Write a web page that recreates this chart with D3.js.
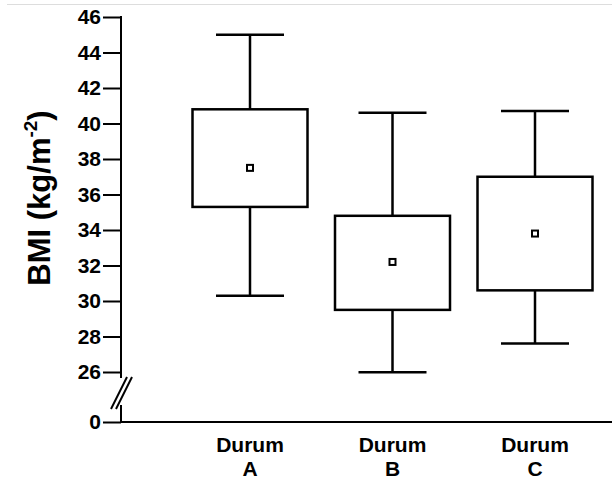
<!DOCTYPE html>
<html>
<head>
<meta charset="utf-8">
<script src="https://cdn.jsdelivr.net/npm/d3@7"></script>
<style>
  body { margin: 0; background: #fff; }
  text { font-family: "Liberation Sans", Arial, sans-serif; font-weight: bold; fill: #000; }
</style>
</head>
<body>
<div id="chart"></div>
<script>
// Box plot data
var groups = ["A", "B", "C"];
var whiskerHigh = [45.0, 40.6, 40.7];
var boxHigh = [40.8, 34.8, 37.0];
var means = [37.5, 32.2, 33.8];
var boxLow = [35.3, 29.5, 30.6];
var whiskerLow = [30.3, 25.9, 27.6];
var yTicks = [0, 26, 28, 30, 32, 34, 36, 38, 40, 42, 44, 46];

var width = 612, height = 484;
var axisX = 121;

var svg = d3.select("#chart").append("svg")
  .attr("width", width)
  .attr("height", height);

// faint scan line at the top
svg.append("line")
  .attr("x1", 7).attr("x2", width)
  .attr("y1", 4.5).attr("y2", 4.5)
  .attr("stroke", "#ddd").attr("stroke-width", 1);

// broken y scale: 0 sits below the break
var y = d3.scaleLinear()
  .domain([0, 26, 46])
  .range([422, 372, 17]);

var x = d3.scalePoint()
  .domain(groups)
  .range([250, 535]);

var boxW = 115, capW = 68;

// y axis
var yAxis = svg.append("g")
  .attr("transform", "translate(" + axisX + ",0)")
  .call(d3.axisLeft(y).tickValues(yTicks).tickSize(18).tickPadding(2));
yAxis.attr("font-size", null).attr("font-family", null);
yAxis.select(".domain").remove();
yAxis.selectAll(".tick line").attr("stroke", "#000").attr("stroke-width", 2);
yAxis.selectAll(".tick text")
  .style("font-size", "21px")
  .style("font-weight", "bold")
  .attr("fill", "#000");

// axis line with break
svg.append("line")
  .attr("x1", axisX).attr("x2", axisX)
  .attr("y1", y(46) - 1).attr("y2", y(26) + 6)
  .attr("stroke", "#000").attr("stroke-width", 2);
svg.append("line")
  .attr("x1", axisX).attr("x2", axisX)
  .attr("y1", y(0) - 17).attr("y2", y(0) + 1)
  .attr("stroke", "#000").attr("stroke-width", 2);
[0, 5].forEach(function(o) {
  svg.append("line")
    .attr("x1", axisX - 10 + o).attr("y1", y(0) - 13)
    .attr("x2", axisX + 6 + o).attr("y2", y(26) + 5)
    .attr("stroke", "#000").attr("stroke-width", 2);
});

// baseline
svg.append("line")
  .attr("x1", axisX).attr("x2", width)
  .attr("y1", y(0)).attr("y2", y(0))
  .attr("stroke", "#000").attr("stroke-width", 2);

// y label
svg.append("text")
  .attr("transform", "translate(50," + 198 + ") rotate(-90)")
  .attr("text-anchor", "middle")
  .style("font-size", "31px")
  .call(function(t) {
    t.append("tspan").text("BMI (kg/m");
    t.append("tspan").style("font-size", "19px").attr("dy", -13).text("-2");
    t.append("tspan").attr("dy", 13).text(")");
  });

// boxes
var box = svg.selectAll(".box")
  .data(groups)
  .enter()
  .append("g")
  .attr("class", "box");

box.append("line")
  .attr("x1", function(d) { return x(d); })
  .attr("x2", function(d) { return x(d); })
  .attr("y1", function(d, i) { return y(whiskerHigh[i]); })
  .attr("y2", function(d, i) { return y(boxHigh[i]); })
  .attr("stroke", "#000").attr("stroke-width", 2.5);

box.append("line")
  .attr("x1", function(d) { return x(d); })
  .attr("x2", function(d) { return x(d); })
  .attr("y1", function(d, i) { return y(boxLow[i]); })
  .attr("y2", function(d, i) { return y(whiskerLow[i]); })
  .attr("stroke", "#000").attr("stroke-width", 2.5);

[whiskerHigh, whiskerLow].forEach(function(arr) {
  box.append("line")
    .attr("x1", function(d) { return x(d) - capW / 2; })
    .attr("x2", function(d) { return x(d) + capW / 2; })
    .attr("y1", function(d, i) { return y(arr[i]); })
    .attr("y2", function(d, i) { return y(arr[i]); })
    .attr("stroke", "#000").attr("stroke-width", 2.5);
});

box.append("rect")
  .attr("x", function(d) { return x(d) - boxW / 2; })
  .attr("y", function(d, i) { return y(boxHigh[i]); })
  .attr("width", boxW)
  .attr("height", function(d, i) { return y(boxLow[i]) - y(boxHigh[i]); })
  .attr("fill", "none")
  .attr("stroke", "#000").attr("stroke-width", 2.5);

box.append("rect")
  .attr("x", function(d) { return x(d) - 3; })
  .attr("y", function(d, i) { return y(means[i]) - 3; })
  .attr("width", 6).attr("height", 6)
  .attr("fill", "#fff")
  .attr("stroke", "#000").attr("stroke-width", 2);

// category labels
var lab = svg.selectAll(".cat")
  .data(groups)
  .enter()
  .append("text")
  .attr("class", "cat")
  .attr("text-anchor", "middle")
  .style("font-size", "21px");
lab.append("tspan")
  .attr("x", function(d) { return x(d); })
  .attr("y", 452)
  .text("Durum");
lab.append("tspan")
  .attr("x", function(d) { return x(d); })
  .attr("y", 476)
  .text(function(d) { return d; });
</script>
</body>
</html>
